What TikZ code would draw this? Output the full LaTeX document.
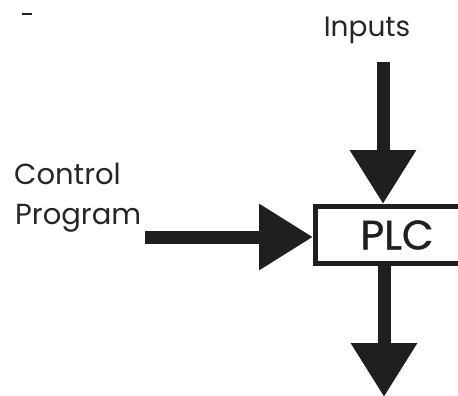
\documentclass[tikz,border=0pt]{standalone}
\usepackage{fontspec}
\setmainfont{Poppins}
\newfontfamily\plcfont[FakeBold=1]{Poppins}
\usepackage{tikz}
\usetikzlibrary{arrows.meta, positioning, calc}

\tikzset{
  lbl/.style={font=\fontsize{29}{34}\selectfont, inner sep=0pt, text=black!85},
  plcbox/.style={draw, line width=5pt, minimum width=163pt, minimum height=57pt, inner sep=0pt,
    font=\plcfont\fontsize{41}{48}\selectfont},
  fatarrow/.style={line width=13pt, -{Triangle[width=63pt,length=54pt]}}
}

\begin{document}
\begin{tikzpicture}[x=1pt,y=-1pt, color={black!88}]
            \path[use as bounding box, clip] (0,0) rectangle (458,396);

            \node[plcbox] (plc) at (397,235) {PLC};

            \node[lbl, anchor=base, font=\fontsize{28}{34}\selectfont] (inp) at (367,37) {Inputs};
            \node[lbl, anchor=base west] (ctl) at (14,184) {Control};
            \node[lbl, anchor=base west] (prg) at (15,224) {Program};

            \coordinate (intop) at (383,62);
            \coordinate (cpend) at (145,237);
            \coordinate (outend) at (384,397);

            \draw[fatarrow] (intop) -- (intop |- plc.north);
            \draw[fatarrow] (cpend) -- (cpend -| plc.west);
            \draw[fatarrow] (outend |- plc.south) -- (outend);

            % stray mark, top left
            \draw[line width=2.5pt] (22,14) -- (32,14);
          \end{tikzpicture}
\end{document}
